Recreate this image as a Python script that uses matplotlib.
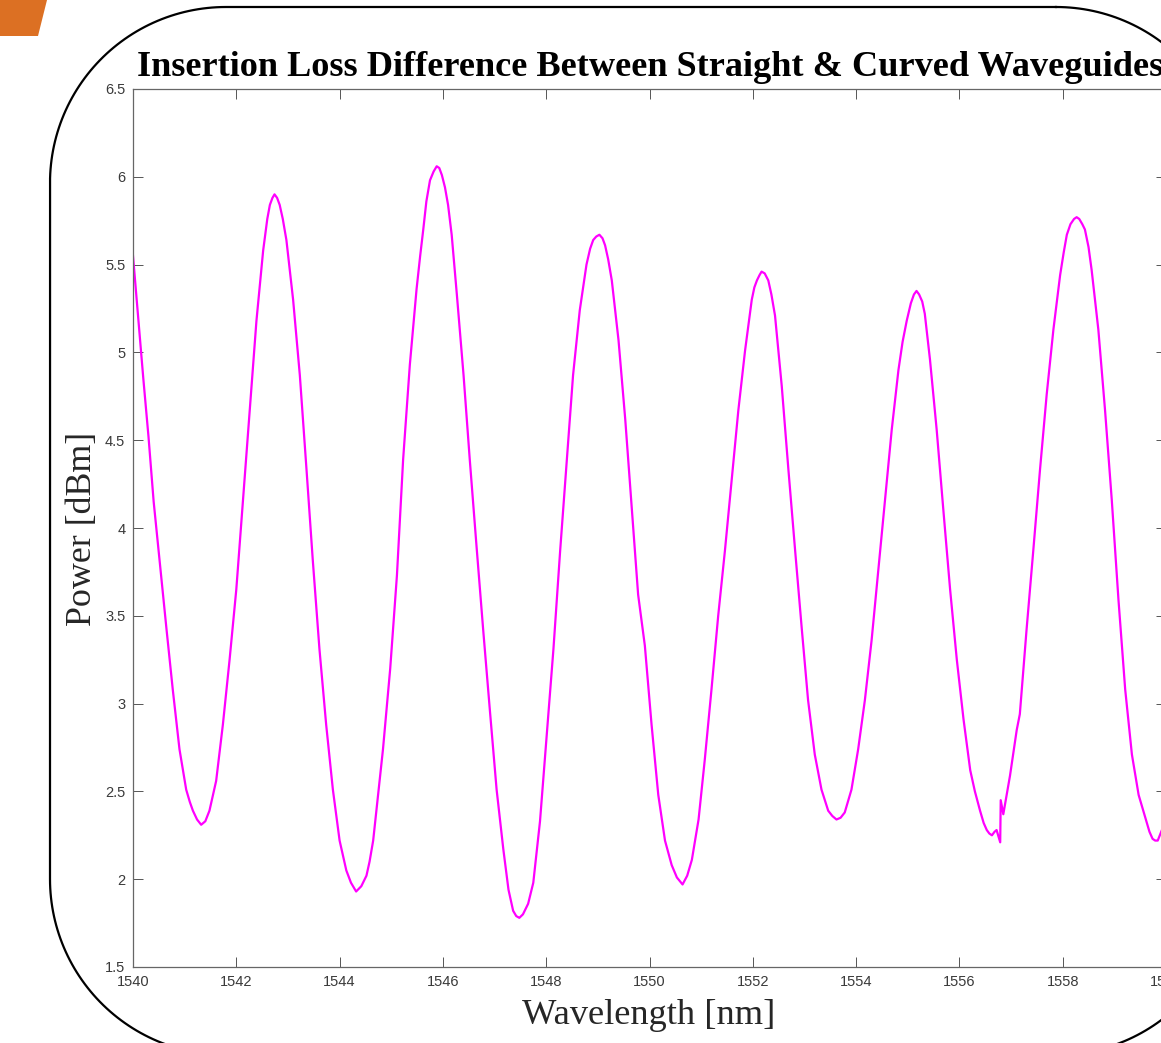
import numpy as np
import matplotlib
matplotlib.use('Agg')
import matplotlib.pyplot as plt
from matplotlib.patches import Polygon
from matplotlib.ticker import FormatStrFormatter

# --- Data ---
wavelength_nm = [
    1540.00, 1540.10, 1540.20, 1540.30, 1540.40, 1540.52, 1540.65, 1540.77, 1540.90, 1541.03,
    1541.10, 1541.16, 1541.24, 1541.32, 1541.40, 1541.48, 1541.61, 1541.74, 1541.87, 1542.00,
    1542.13, 1542.26, 1542.39, 1542.52, 1542.60, 1542.65, 1542.70, 1542.74, 1542.79, 1542.84,
    1542.90, 1542.97, 1543.10, 1543.23, 1543.36, 1543.48, 1543.61, 1543.74, 1543.87, 1544.00,
    1544.13, 1544.22, 1544.32, 1544.42, 1544.52, 1544.58, 1544.65, 1544.84, 1544.98, 1545.11,
    1545.23, 1545.36, 1545.49, 1545.56, 1545.62, 1545.68, 1545.75, 1545.82, 1545.88, 1545.93,
    1545.98, 1546.04, 1546.10, 1546.17, 1546.27, 1546.40, 1546.52, 1546.65, 1546.78, 1546.91,
    1547.04, 1547.17, 1547.27, 1547.36, 1547.42, 1547.48, 1547.55, 1547.65, 1547.75, 1547.88,
    1548.01, 1548.14, 1548.27, 1548.40, 1548.52, 1548.65, 1548.78, 1548.85, 1548.91, 1548.97,
    1549.03, 1549.09, 1549.14, 1549.20, 1549.27, 1549.40, 1549.53, 1549.66, 1549.78, 1549.91,
    1550.04, 1550.17, 1550.30, 1550.43, 1550.53, 1550.64, 1550.73, 1550.82, 1550.95, 1551.07,
    1551.20, 1551.33, 1551.46, 1551.59, 1551.72, 1551.85, 1551.98, 1552.03, 1552.08, 1552.13,
    1552.17, 1552.23, 1552.30, 1552.36, 1552.43, 1552.56, 1552.69, 1552.82, 1552.95, 1553.07,
    1553.20, 1553.33, 1553.46, 1553.54, 1553.62, 1553.70, 1553.78, 1553.91, 1554.04, 1554.17,
    1554.30, 1554.43, 1554.56, 1554.69, 1554.82, 1554.90, 1554.98, 1555.06, 1555.12, 1555.17,
    1555.22, 1555.28, 1555.33, 1555.43, 1555.56, 1555.69, 1555.82, 1555.95, 1556.08, 1556.21,
    1556.30, 1556.40, 1556.47, 1556.53, 1556.58, 1556.63, 1556.68, 1556.72, 1556.79, 1556.80,
    1556.85, 1556.98, 1557.11, 1557.17, 1557.30, 1557.43, 1557.56, 1557.69, 1557.82, 1557.95,
    1558.02, 1558.08, 1558.15, 1558.22, 1558.27, 1558.32, 1558.38, 1558.43, 1558.50, 1558.56,
    1558.69, 1558.82, 1558.95, 1559.08, 1559.21, 1559.34, 1559.47, 1559.61, 1559.68, 1559.74,
    1559.79, 1559.84, 1559.92, 1560.00,
]
power_dbm = [
    5.55, 5.20, 4.85, 4.52, 4.15, 3.80, 3.42, 3.08, 2.74, 2.51,
    2.44, 2.39, 2.34, 2.31, 2.33, 2.39, 2.56, 2.88, 3.25, 3.65,
    4.16, 4.67, 5.18, 5.58, 5.76, 5.84, 5.88, 5.90, 5.88, 5.84,
    5.76, 5.64, 5.30, 4.87, 4.33, 3.82, 3.31, 2.88, 2.51, 2.22,
    2.05, 1.98, 1.93, 1.96, 2.02, 2.10, 2.22, 2.74, 3.20, 3.73,
    4.39, 4.93, 5.36, 5.55, 5.70, 5.86, 5.98, 6.03, 6.06, 6.05,
    6.01, 5.94, 5.84, 5.67, 5.33, 4.87, 4.39, 3.90, 3.42, 2.96,
    2.51, 2.17, 1.94, 1.82, 1.79, 1.78, 1.80, 1.86, 1.98, 2.33,
    2.82, 3.31, 3.87, 4.39, 4.87, 5.24, 5.50, 5.59, 5.64, 5.66,
    5.67, 5.65, 5.61, 5.53, 5.41, 5.07, 4.62, 4.10, 3.62, 3.33,
    2.88, 2.48, 2.22, 2.08, 2.01, 1.97, 2.02, 2.11, 2.34, 2.68,
    3.08, 3.50, 3.87, 4.27, 4.67, 5.01, 5.30, 5.37, 5.41, 5.44,
    5.46, 5.45, 5.41, 5.33, 5.21, 4.81, 4.33, 3.87, 3.42, 3.02,
    2.71, 2.51, 2.39, 2.36, 2.34, 2.35, 2.38, 2.51, 2.74, 3.02,
    3.36, 3.76, 4.16, 4.56, 4.90, 5.06, 5.18, 5.28, 5.33, 5.35,
    5.33, 5.29, 5.22, 4.96, 4.56, 4.10, 3.65, 3.25, 2.91, 2.62,
    2.50, 2.39, 2.32, 2.28, 2.26, 2.25, 2.27, 2.28, 2.21, 2.45,
    2.37, 2.59, 2.85, 2.94, 3.42, 3.87, 4.33, 4.76, 5.13, 5.44,
    5.57, 5.67, 5.73, 5.76, 5.77, 5.76, 5.73, 5.70, 5.60, 5.47,
    5.13, 4.67, 4.16, 3.59, 3.08, 2.71, 2.48, 2.34, 2.27, 2.23,
    2.22, 2.22, 2.28, 2.33,
]
x_ticks = [1540, 1542, 1544, 1546, 1548, 1550, 1552, 1554, 1556, 1558, 1560]
y_ticks = [1.5, 2, 2.5, 3, 3.5, 4, 4.5, 5, 5.5, 6, 6.5]

W, H = 1161, 1043
fig = plt.figure(figsize=(W / 100, H / 100), dpi=100)

# --- Slide decoration (rounded frame + orange accent), pixel coordinates ---
bg = fig.add_axes([0, 0, 1, 1], zorder=0)
bg.set_xlim(0, W)
bg.set_ylim(H, 0)
bg.axis('off')


def rounded_frame(x0, y0, x1, y1, r, n=60):
    """Closed outline of a rounded rectangle (y grows downward)."""
    pts = []
    corners = [(x1 - r, y0 + r, -90, 0), (x1 - r, y1 - r, 0, 90),
               (x0 + r, y1 - r, 90, 180), (x0 + r, y0 + r, 180, 270)]
    for cx, cy, a0, a1 in corners:
        t = np.radians(np.linspace(a0, a1, n))
        pts.extend(zip(cx + r * np.cos(t), cy + r * np.sin(t)))
    pts.append(pts[0])
    return np.array(pts)


frame = rounded_frame(50, 7, 1232, 1055, 176)
bg.plot(frame[:, 0], frame[:, 1], color='black', lw=1.6, clip_on=False)
bg.add_patch(Polygon([(0, 0), (47, 0), (38, 36), (0, 36)], closed=True,
                     fc='#DC7023', ec='none'))

# --- Main plot (extends past the right edge, as in the cropped slide) ---
left, right, top, bottom = 133, 1166, 89, 967
ax = fig.add_axes([left / W, (H - bottom) / H, (right - left) / W, (bottom - top) / H],
                  zorder=1)
ax.plot(wavelength_nm, power_dbm, color='#FF00FF', linewidth=1.6)
ax.set_xlim(1540, 1560)
ax.set_ylim(1.5, 6.5)
ax.set_xticks(x_ticks)
ax.set_yticks(y_ticks)
ax.yaxis.set_major_formatter(FormatStrFormatter('%g'))
ax.tick_params(direction='in', length=7.2, width=0.7, top=True, right=True,
               labelsize=10.5, colors='#555555', labelcolor='#3a3a3a', pad=5.5)
for lab in ax.get_xticklabels() + ax.get_yticklabels():
    lab.set_fontfamily('Liberation Sans')
for spine in ax.spines.values():
    spine.set_edgecolor('#666666')
    spine.set_linewidth(0.9)

# --- Texts ---
title = fig.text(650 / W, 1 - 76 / H,
                 'Insertion Loss Difference Between Straight & Curved Waveguides',
                 ha='center', va='baseline', fontsize=28, fontweight='bold',
                 family='Liberation Serif', color='black')
ylab = fig.text(83 / W, 1 - 529 / H, 'Power [dBm]', rotation=90,
                ha='center', va='center', fontsize=22, family='Liberation Serif',
                color='#262626')
xlab = fig.text(649 / W, 1 - 1015 / H, 'Wavelength [nm]',
                ha='center', va='center', fontsize=22, family='Liberation Serif',
                color='#262626')


def fit_length(txt, target):
    fig.canvas.draw()
    bb = txt.get_window_extent()
    txt.set_fontsize(txt.get_fontsize() * target / max(bb.width, bb.height))


fit_length(title, 1026)
fit_length(ylab, 194)
fit_length(xlab, 252)

fig.savefig('out.png', dpi=100)
